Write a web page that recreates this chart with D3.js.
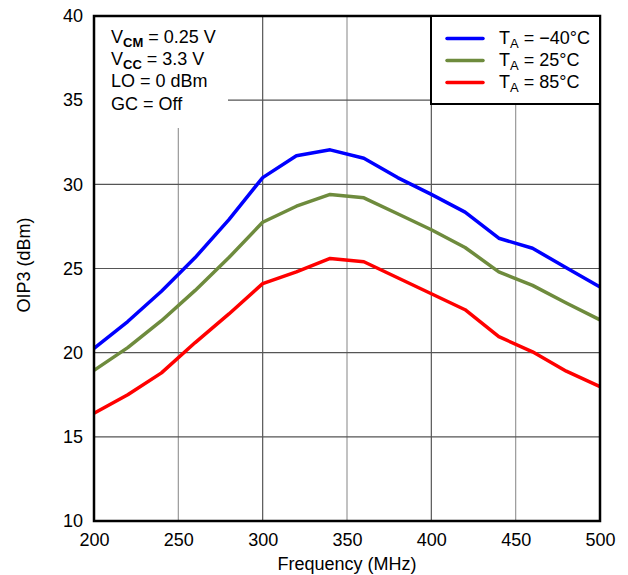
<!DOCTYPE html>
<html><head><meta charset="utf-8">
<script src="https://cdn.jsdelivr.net/npm/d3@7"></script>
<style>body{margin:0;background:#fff;} svg{font-family:"Liberation Sans",Arial,sans-serif;}</style>
</head><body>
<svg id="c" width="628" height="575"></svg>
<script>
const freqs = [200,220,240,260,280,300,320,340,360,380,400,420,440,460,480,500];
const tMinus40 = [20.25,21.85,23.65,25.65,27.9,30.4,31.7,32.05,31.55,30.4,29.4,28.35,26.8,26.2,25.05,23.9];
const t25 = [18.95,20.3,21.9,23.7,25.65,27.75,28.7,29.4,29.2,28.25,27.3,26.25,24.8,24.0,22.95,21.95];
const t85 = [16.4,17.5,18.8,20.6,22.3,24.1,24.8,25.6,25.4,24.45,23.5,22.55,20.95,20.05,18.9,17.98];
const xTicks = [200,250,300,350,400,450,500];
const yTicks = [10,15,20,25,30,35,40];
const seriesNames = ["\u221240\u00b0C","25\u00b0C","85\u00b0C"];
const seriesColors = ["#0000ff","#6e8b3d","#ff0000"];
const seriesData = [tMinus40,t25,t85];

const L=94,R=600,T=16,B=521;
const FS=18, SFS=13;
const svg=d3.select("#c");
const x=d3.scaleLinear().domain([200,500]).range([L,R]);
const y=d3.scaleLinear().domain([10,40]).range([B,T]);

// grid
const g=svg.append("g");
g.selectAll("line.v").data(xTicks.slice(1,-1)).enter().append("line")
 .attr("x1",d=>x(d)).attr("x2",d=>x(d)).attr("y1",T).attr("y2",B)
 .attr("stroke",(d,i)=>i%2?"#555":"#999").attr("stroke-width",1.2);
g.selectAll("line.h").data(yTicks.slice(1,-1)).enter().append("line")
 .attr("x1",L).attr("x2",R).attr("y1",d=>y(d)).attr("y2",d=>y(d))
 .attr("stroke","#555").attr("stroke-width",1.2);

// annotation background
svg.append("rect").attr("x",L+1).attr("y",T+1).attr("width",227-L).attr("height",127-T).attr("fill","#fff");

// lines
const line=d3.line().x((d,i)=>x(freqs[i])).y(d=>y(d));
seriesData.forEach((s,k)=>{
  svg.append("path").datum(s).attr("d",line).attr("fill","none")
   .attr("stroke",seriesColors[k]).attr("stroke-width",3.5).attr("stroke-linejoin","round");
});

// frame
svg.append("rect").attr("x",L).attr("y",T).attr("width",R-L).attr("height",B-T)
 .attr("fill","none").attr("stroke","#000").attr("stroke-width",2.5);

// axes
const xa=svg.append("g").attr("transform",`translate(0,${B})`)
 .call(d3.axisBottom(x).tickValues(xTicks).tickSize(0).tickPadding(12));
xa.select(".domain").remove();
xa.selectAll("text").attr("font-size",FS).attr("font-family","Liberation Sans, Arial, sans-serif").attr("fill","#000");
const ya=svg.append("g").attr("transform",`translate(${L},0)`)
 .call(d3.axisLeft(y).tickValues(yTicks).tickSize(0).tickPadding(11));
ya.select(".domain").remove();
ya.selectAll("text").attr("font-size",FS).attr("font-family","Liberation Sans, Arial, sans-serif").attr("fill","#000");

svg.append("text").attr("x",(L+R)/2).attr("y",570).attr("text-anchor","middle")
 .attr("font-size",FS).text("Frequency (MHz)");
svg.append("text").attr("transform","translate(30,265) rotate(-90)").attr("text-anchor","middle")
 .attr("font-size",FS).text("OIP3 (dBm)");

// annotation
const ann=svg.append("g").attr("font-size",FS);
function sub(main,subt,rest,yy,bold){
  const tx=ann.append("text").attr("x",111).attr("y",yy);
  tx.append("tspan").text(main);
  tx.append("tspan").attr("dy",4).attr("font-size",SFS).attr("font-weight",bold?"bold":"normal").text(subt);
  tx.append("tspan").attr("dy",-4).text(rest);
}
sub("V","CM"," = 0.25 V",43,true);
sub("V","CC"," = 3.3 V",65,true);
ann.append("text").attr("x",111).attr("y",87).text("LO = 0 dBm");
ann.append("text").attr("x",111).attr("y",110).text("GC = Off");

// legend
const lg=svg.append("g");
lg.append("rect").attr("x",431).attr("y",T).attr("width",R-431).attr("height",104-T)
 .attr("fill","#fff").attr("stroke","#000").attr("stroke-width",2);
seriesNames.forEach((n,k)=>{
  const yy=38.5+k*22;
  lg.append("line").attr("x1",447).attr("x2",483).attr("y1",yy).attr("y2",yy)
   .attr("stroke",seriesColors[k]).attr("stroke-width",3.5).attr("stroke-linecap","round");
  const t=lg.append("text").attr("x",499).attr("y",yy+5).attr("font-size",FS);
  t.append("tspan").text("T");
  t.append("tspan").attr("dy",4).attr("font-size",SFS).text("A");
  t.append("tspan").attr("dy",-4).text(" = "+n);
});
</script>
</body></html>
